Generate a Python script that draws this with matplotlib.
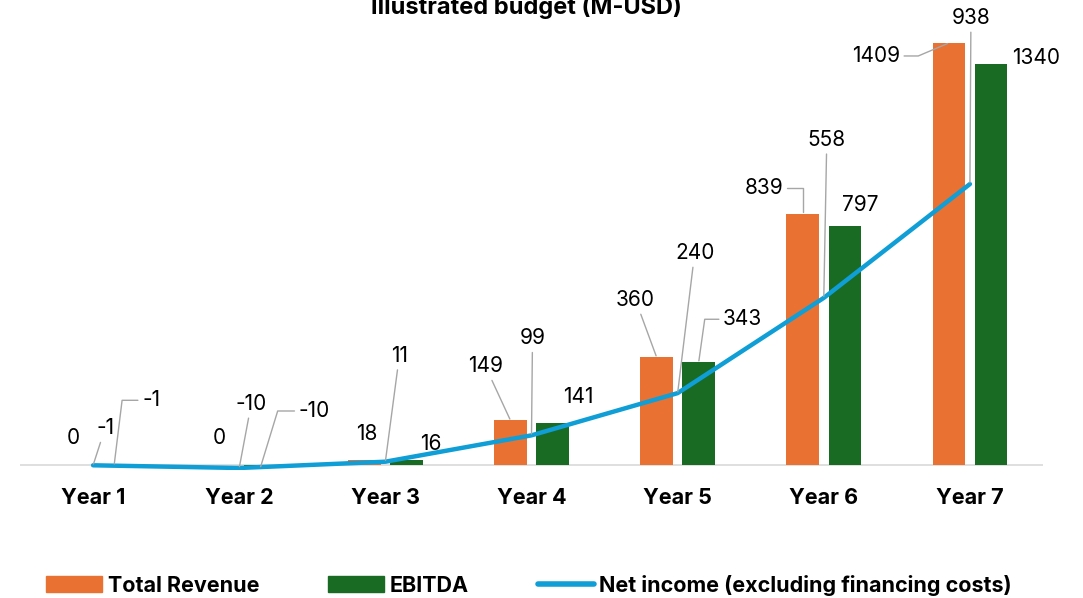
import matplotlib
matplotlib.use("Agg")
import matplotlib.pyplot as plt
from matplotlib.lines import Line2D
from matplotlib.patches import Patch

YEARS = ["Year 1", "Year 2", "Year 3", "Year 4", "Year 5", "Year 6", "Year 7"]
REVENUE = [0, 0, 18, 149, 360, 839, 1409]
EBITDA = [-1, -10, 16, 141, 343, 797, 1340]
NET_INCOME = [-1, -10, 11, 99, 240, 558, 938]

ORANGE = "#E97132"; GREEN = "#196B24"; BLUE = "#0F9ED5"
LEADER = "#A6A6A6"; AXIS = "#D9D9D9"; TXT = "#000000"

# label placement: (dx, dy) in pixels from the data point, leader style
# None = no leader, "s" = straight, number = elbow with that end angle
REV_LBL = [(1, 27, None), (1, 27, None), (2, 26, None), (-25, 54, "s"),
           (-21, 57, "s"), (-39, 26, 90), (-73, -13, 23)]
EBT_LBL = [(37, 65, 83), (54, 57, 73), (24, 16, None), (26, 26, None),
           (44, 43, 82), (15, 21, None), (45, 6, None)]
NET_LBL = [(12, 37, "s"), (12, 64, "s"), (14, 106, "s"), (1, 97, "s"),
           (17, 140, "s"), (3, 158, "s"), (1, 166, "s")]

plt.rcParams["font.family"] = ["Inter", "DejaVu Sans"]

W, H = 1083, 598
fig = plt.figure(figsize=(W / 100, H / 100), dpi=100)
ax = fig.add_axes([20 / W, 1 - 470 / H, 1023 / W, 445 / H])
ax.set_xlim(-0.5, 6.5)
ax.set_ylim(-16.7, 1469)

x = list(range(len(YEARS)))
bw, off = 0.223, 0.144
ax.bar([i - off for i in x], REVENUE, width=bw, color=ORANGE, zorder=2)
ax.bar([i + off for i in x], EBITDA, width=bw, color=GREEN, zorder=2)
ax.axhline(0, color=AXIS, lw=1.2, zorder=1)
ax.plot(x, NET_INCOME, color=BLUE, lw=3.2, solid_capstyle="round",
        solid_joinstyle="round", zorder=3)


def put_labels(xs, vals, specs):
    for xi, v, (dx, dy, lead) in zip(xs, vals, specs):
        kw = {}
        if lead == "s":
            kw["arrowprops"] = dict(arrowstyle="-", color=LEADER, lw=1,
                                    shrinkA=1, shrinkB=1)
        elif lead is not None:
            kw["arrowprops"] = dict(arrowstyle="-", color=LEADER, lw=1,
                                    shrinkA=1, shrinkB=1,
                                    connectionstyle=f"angle,angleA=0,angleB={lead},rad=0")
        ax.annotate(f"{v}", xy=(xi, v), xytext=(dx, dy), textcoords="offset pixels",
                    ha="center", va="center", fontsize=15, color=TXT, zorder=4, **kw)


put_labels([i - off for i in x], REVENUE, REV_LBL)
put_labels([i + off for i in x], EBITDA, EBT_LBL)
put_labels(x, NET_INCOME, NET_LBL)

ax.set_xticks(x)
ax.set_xticklabels(YEARS, fontsize=15.5, fontweight="bold", color=TXT)
ax.tick_params(axis="x", length=0, pad=13)
ax.set_yticks([])
for s in ax.spines.values():
    s.set_visible(False)

fig.text(526 / W, 1 - 14 / H, "Illustrated budget (M-USD)", ha="center",
         va="baseline", fontsize=17, fontweight="bold", color=TXT)

handles = [Patch(color=ORANGE), Patch(color=GREEN),
           Line2D([], [], color=BLUE, lw=4, solid_capstyle="round")]
fig.legend(handles, ["Total Revenue", "EBITDA", "Net income (excluding financing costs)"],
           loc="center", bbox_to_anchor=(529 / W, 1 - 585 / H), ncol=3, frameon=False,
           prop=dict(size=15.5, weight="bold"), handlelength=2.6, handleheight=0.7,
           handletextpad=0.25, columnspacing=3.2)

fig.savefig("out.png", dpi=100)
